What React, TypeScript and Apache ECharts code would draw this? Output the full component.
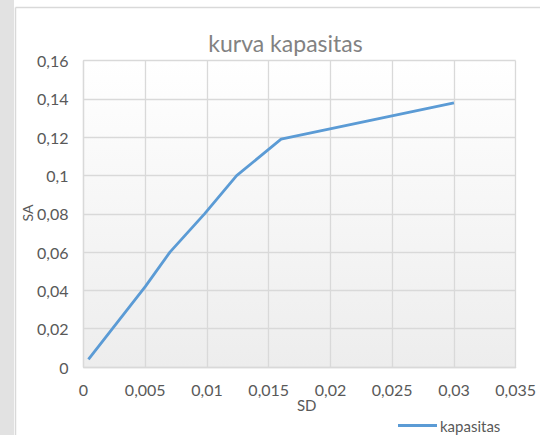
import React, { useEffect, useRef } from "react";
import * as echarts from "echarts";

const sdValues = [0.0004, 0.005, 0.007, 0.0098, 0.0124, 0.016, 0.03];
const saValues = [0.004, 0.042, 0.06, 0.08, 0.1, 0.119, 0.138];
const seriesName = "kapasitas";
const titleText = "kurva kapasitas";
const xName = "SD";
const yName = "SA";

const FONT = "Lato, 'Open Sans', sans-serif";
const fmt = (v: number) => String(+v.toFixed(4)).replace(".", ",");

export default function App() {
  const ref = useRef<HTMLDivElement>(null);
  useEffect(() => {
    if (!ref.current) return;
    const chart = echarts.init(ref.current, null, { renderer: "svg" });
    const data = sdValues.map((x, i) => [x, saValues[i]]);
    chart.setOption({
      animation: false,
      backgroundColor: "#ffffff",
      textStyle: { fontFamily: FONT },
      grid: {
        left: 83.5,
        right: 24.3,
        top: 60.7,
        bottom: 68,
        show: true,
        borderWidth: 0,
        backgroundColor: new echarts.graphic.LinearGradient(0, 0, 0, 1, [
          { offset: 0, color: "#ffffff" },
          { offset: 1, color: "#ededed" },
        ]),
      },
      title: {
        text: titleText,
        left: 280.5,
        textAlign: "center",
        top: 26,
        textStyle: { fontFamily: FONT, fontSize: 23, fontWeight: "normal", color: "#828282" },
      },
      legend: {
        data: [seriesName],
        left: 393,
        top: 413,
        icon: "rect",
        itemWidth: 39,
        itemHeight: 3,
        textStyle: { fontFamily: FONT, fontSize: 15, color: "#595959", padding: [0, 0, 0, -2] },
      },
      xAxis: {
        type: "value",
        min: 0,
        max: 0.035,
        interval: 0.005,
        axisLine: { show: true, lineStyle: { color: "#d9d9d9", width: 1.3 } },
        axisTick: { show: false },
        splitLine: { show: true, lineStyle: { color: "#d9d9d9", width: 1.3 } },
        axisLabel: { formatter: fmt, fontFamily: FONT, fontSize: 16, color: "#595959", margin: 14, showMaxLabel: true, showMinLabel: true },
      },
      yAxis: {
        type: "value",
        min: 0,
        max: 0.16,
        interval: 0.02,
        axisLine: { show: true, lineStyle: { color: "#d9d9d9", width: 1.3 } },
        axisTick: { show: false },
        splitLine: { show: true, lineStyle: { color: "#d9d9d9", width: 1.3 } },
        axisLabel: { formatter: fmt, fontFamily: FONT, fontSize: 16, color: "#595959", margin: 15 },
      },
      graphic: [
        { type: "rect", silent: true, shape: { x: 0, y: 0, width: 14, height: 435 }, style: { fill: "#e2e2e2" }, z: -1 },
        { type: "line", silent: true, shape: { x1: 15.5, y1: 7.5, x2: 540, y2: 7.5 }, style: { stroke: "#d9d9d9", lineWidth: 1.5 } },
        { type: "line", silent: true, shape: { x1: 15.5, y1: 7.5, x2: 15.5, y2: 435 }, style: { stroke: "#d9d9d9", lineWidth: 1.5 } },
        {
          type: "text",
          x: 306.7,
          y: 405,
          style: { text: xName, fontFamily: FONT, fontSize: 15, fill: "#595959", textAlign: "center", textVerticalAlign: "middle" },
        },
        {
          type: "text",
          x: 27.5,
          y: 213,
          rotation: Math.PI / 2,
          style: { text: yName, fontFamily: FONT, fontSize: 14, fill: "#595959", textAlign: "center", textVerticalAlign: "middle" },
        },
      ],
      series: [
        {
          name: seriesName,
          type: "line",
          data,
          showSymbol: false,
          symbol: "none",
          lineStyle: { color: "#5b9bd5", width: 2.8 },
          itemStyle: { color: "#5b9bd5" },
        },
      ],
    });
    return () => chart.dispose();
  }, []);
  return <div ref={ref} style={{ width: 540, height: 435, position: "absolute", left: 0, top: 0 }} />;
}
